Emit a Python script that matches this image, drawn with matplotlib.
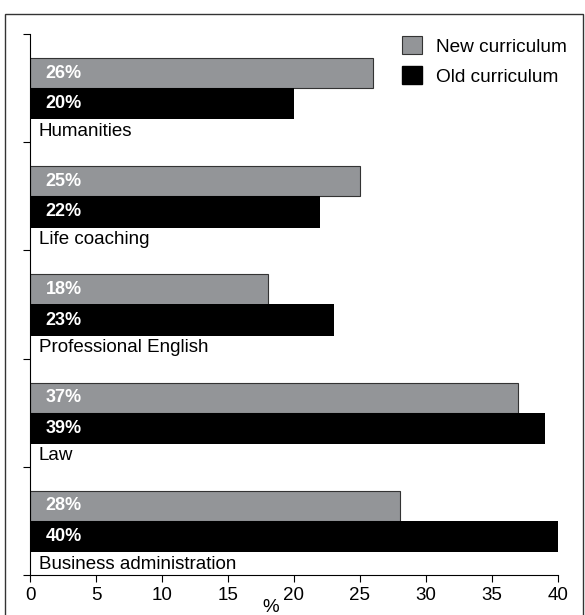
import matplotlib
matplotlib.use("Agg")
import matplotlib.pyplot as plt
from matplotlib.patches import Rectangle, Patch

plt.rcParams['font.family'] = ['Liberation Sans', 'DejaVu Sans']

categories = ["Business administration", "Law", "Professional English", "Life coaching", "Humanities"]
new_curriculum = [28, 37, 18, 25, 26]
old_curriculum = [40, 39, 23, 22, 20]
x_ticks = [0, 5, 10, 15, 20, 25, 30, 35, 40]

fig = plt.figure(figsize=(5.85, 6.15), dpi=100)
ax = fig.add_axes([30/585, 1-575/615, (558-30)/585, (575-34)/615])

gray = "#939598"
ys = list(range(len(categories)))
gy = [y + 0.639 for y in ys]
by = [y + 0.356 for y in ys]
ax.barh(gy, new_curriculum, height=0.278, color=gray, edgecolor="#333333", linewidth=0.8, label="New curriculum")
ax.barh(by, old_curriculum, height=0.29, color="black", edgecolor="black", linewidth=0, label="Old curriculum")

for y, v in zip(gy, new_curriculum):
    ax.text(1.2, y, f"{v}%", color="white", fontsize=13, fontweight="bold", va="center", ha="left")
for y, v in zip(by, old_curriculum):
    ax.text(1.2, y, f"{v}%", color="white", fontsize=13, fontweight="bold", va="center", ha="left")
for y, c in zip(ys, categories):
    ax.text(0.65, y + 0.1, c, color="black", fontsize=13.5, va="center", ha="left")

ax.set_xlim(0, 40)
ax.set_ylim(0, 5)
ax.set_xticks(x_ticks)
ax.set_xticklabels([str(t) for t in x_ticks], fontsize=13.5)
ax.set_yticks(range(6))
ax.set_yticklabels([])
ax.tick_params(axis='y', length=5, width=0.8, direction='out')
ax.tick_params(axis='x', length=5, width=0.8, direction='out', pad=3.5)
ax.spines['top'].set_visible(False)
ax.spines['right'].set_visible(False)
ax.spines['left'].set_linewidth(0.8)
ax.spines['bottom'].set_linewidth(0.8)
ax.set_xlabel("%", fontsize=13.5)
ax.xaxis.set_label_coords((271-30)/528, -(607-575)/541, transform=ax.transAxes)
ax.xaxis.label.set_va("center")

handles = [Patch(facecolor=gray, edgecolor="#333333", linewidth=0.8, label="New curriculum"),
           Patch(facecolor="black", edgecolor="black", label="Old curriculum")]
leg = fig.legend(handles=handles, loc="upper left", bbox_to_anchor=(402/585, 1-36/615), frameon=False,
                 fontsize=13.7, handlelength=1.05, handleheight=1.1, handletextpad=0.75, labelspacing=0.55,
                 borderaxespad=0, borderpad=0)

fig.patches.append(Rectangle((5/585, -0.05), (583-5)/585, 1.05 - 14/615, transform=fig.transFigure,
                             fill=False, edgecolor="#333333", linewidth=1.0))

fig.savefig("out.png", dpi=100)
